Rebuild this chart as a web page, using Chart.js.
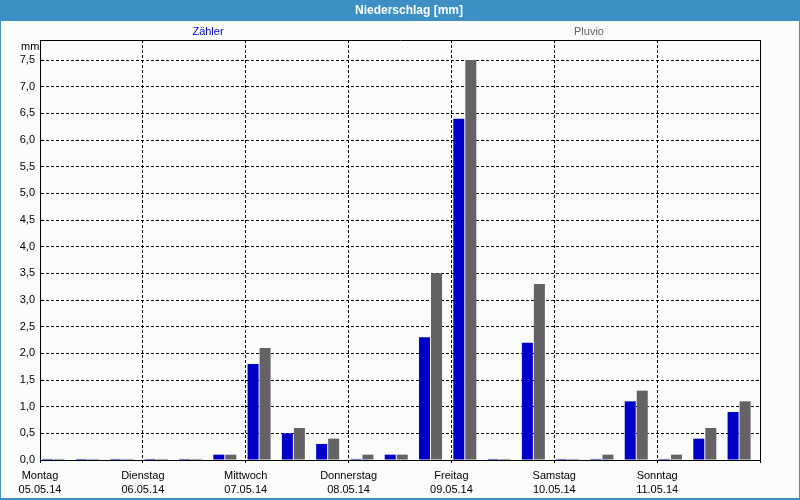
<!DOCTYPE html>
<html>
<head>
<meta charset="utf-8">
<script src="https://cdn.jsdelivr.net/npm/chart.js@4/dist/chart.umd.min.js"></script>
<style>
  html, body { margin: 0; padding: 0; background: #FAFCFA; }
  #wrap { width: 800px; height: 500px; position: relative; }
  canvas { display: block; }
</style>
</head>
<body>
<div id="wrap"><canvas id="c" width="800" height="500"></canvas></div>
<script>
// ---- data ----
const chartTitle = 'Niederschlag [mm]';
const unitLabel = 'mm';
const days = ['Montag', 'Dienstag', 'Mittwoch', 'Donnerstag', 'Freitag', 'Samstag', 'Sonntag'];
const dates = ['05.05.14', '06.05.14', '07.05.14', '08.05.14', '09.05.14', '10.05.14', '11.05.14'];
const periodsPerDay = 3; // three 8-hour periods per day
const seriesNames = ['Zähler', 'Pluvio'];
const zaehler = [0.02, 0.02, 0.02,  0.02, 0.02, 0.1,  1.8, 0.5, 0.3,  0.02, 0.1, 2.3,  6.4, 0.02, 2.2,  0.02, 0.02, 1.1,  0.02, 0.4, 0.9];
const pluvio  = [0.02, 0.02, 0.02,  0.02, 0.02, 0.1,  2.1, 0.6, 0.4,  0.1,  0.1, 3.5,  7.5, 0.02, 3.3,  0.02, 0.1,  1.3,  0.1,  0.6, 1.1];
const yTicks = [0, 0.5, 1, 1.5, 2, 2.5, 3, 3.5, 4, 4.5, 5, 5.5, 6, 6.5, 7, 7.5];
const yMax = 7.875;

// ---- styles ----
const BLUE = 'rgb(0,0,200)';
const GRAY = 'rgb(100,98,100)';
const BAND = '#3C90C6';
const BG = '#FAFCFA';
const FONT = '"Liberation Sans", Arial, sans-serif';
const barShift = 0.39; // bars drawn in the left part of each period

const toPoints = arr => arr.map((v, i) => ({ x: i + barShift, y: v }));

const framePlugin = {
  id: 'frame',
  beforeDraw(chart) {
    const ctx = chart.ctx, W = chart.width, H = chart.height;
    ctx.save();
    ctx.fillStyle = BG;
    ctx.fillRect(0, 0, W, H);
    ctx.fillStyle = BAND;
    ctx.fillRect(0, 0, W, 21);
    ctx.fillRect(0, 0, 1, H);
    ctx.fillRect(W - 1, 0, 1, H);
    ctx.fillRect(0, H - 2, W, 2);
    ctx.fillStyle = '#FFFFFF';
    ctx.font = 'bold 12px ' + FONT;
    ctx.textAlign = 'center';
    ctx.textBaseline = 'middle';
    ctx.fillText(chartTitle, 409, 11);
    ctx.restore();
  },
  afterDraw(chart) {
    const ctx = chart.ctx, a = chart.chartArea;
    ctx.save();
    ctx.strokeStyle = '#000';
    ctx.lineWidth = 1;
    ctx.beginPath();
    ctx.moveTo(a.left, a.top + 0.5);
    ctx.lineTo(a.right + 1, a.top + 0.5);
    ctx.moveTo(a.right + 0.5, a.top);
    ctx.lineTo(a.right + 0.5, a.bottom + 1);
    ctx.stroke();
    ctx.font = '11px ' + FONT;
    ctx.textBaseline = 'middle';
    ctx.fillStyle = '#000';
    ctx.textAlign = 'left';
    ctx.fillText(unitLabel, 21, 47);
    ctx.textAlign = 'center';
    const centers = [208, 589];
    chart.data.datasets.forEach((ds, i) => {
      ctx.fillStyle = ds.backgroundColor;
      ctx.fillText(ds.label, centers[i], 32);
    });
    ctx.restore();
  }
};

new Chart(document.getElementById('c'), {
  type: 'bar',
  data: {
    datasets: [
      { label: seriesNames[0], data: toPoints(zaehler), backgroundColor: BLUE, borderWidth: 0 },
      { label: seriesNames[1], data: toPoints(pluvio), backgroundColor: GRAY, borderWidth: 0 }
    ]
  },
  options: {
    responsive: false,
    animation: false,
    events: [],
    categoryPercentage: 0.7,
    barPercentage: 0.917,
    layout: { padding: { top: 40, right: 40, left: 0, bottom: 0 } },
    plugins: { legend: { display: false }, title: { display: false }, tooltip: { enabled: false } },
    scales: {
      x: {
        type: 'linear',
        min: 0,
        max: days.length * periodsPerDay,
        offset: false,
        afterFit(s) { s.height = 40; },
        grid: { offset: false, color: '#000', lineWidth: 1, drawTicks: true, tickLength: 3, tickColor: '#000', tickBorderDash: [] },
        border: { display: true, color: '#000', width: 1, dash: [3, 2] },
        ticks: {
          stepSize: periodsPerDay,
          autoSkip: false,
          maxRotation: 0,
          minRotation: 0,
          padding: 6,
          color: '#000',
          font: { family: FONT, size: 11, lineHeight: 1.27 },
          callback(value) {
            const k = Math.round(value / periodsPerDay);
            return k < days.length ? [days[k], dates[k]] : '';
          }
        }
      },
      y: {
        min: 0,
        max: yMax,
        afterFit(s) { s.width = 40; },
        afterBuildTicks(s) { s.ticks = yTicks.map(v => ({ value: v })); },
        grid: { color: '#000', lineWidth: 1, drawTicks: false },
        border: { display: true, color: '#000', width: 1, dash: [3, 2] },
        ticks: {
          padding: 5,
          color: '#000',
          font: { family: FONT, size: 11 },
          callback(value) { return value.toFixed(1).replace('.', ','); }
        }
      }
    }
  },
  plugins: [framePlugin]
});
</script>
</body>
</html>
